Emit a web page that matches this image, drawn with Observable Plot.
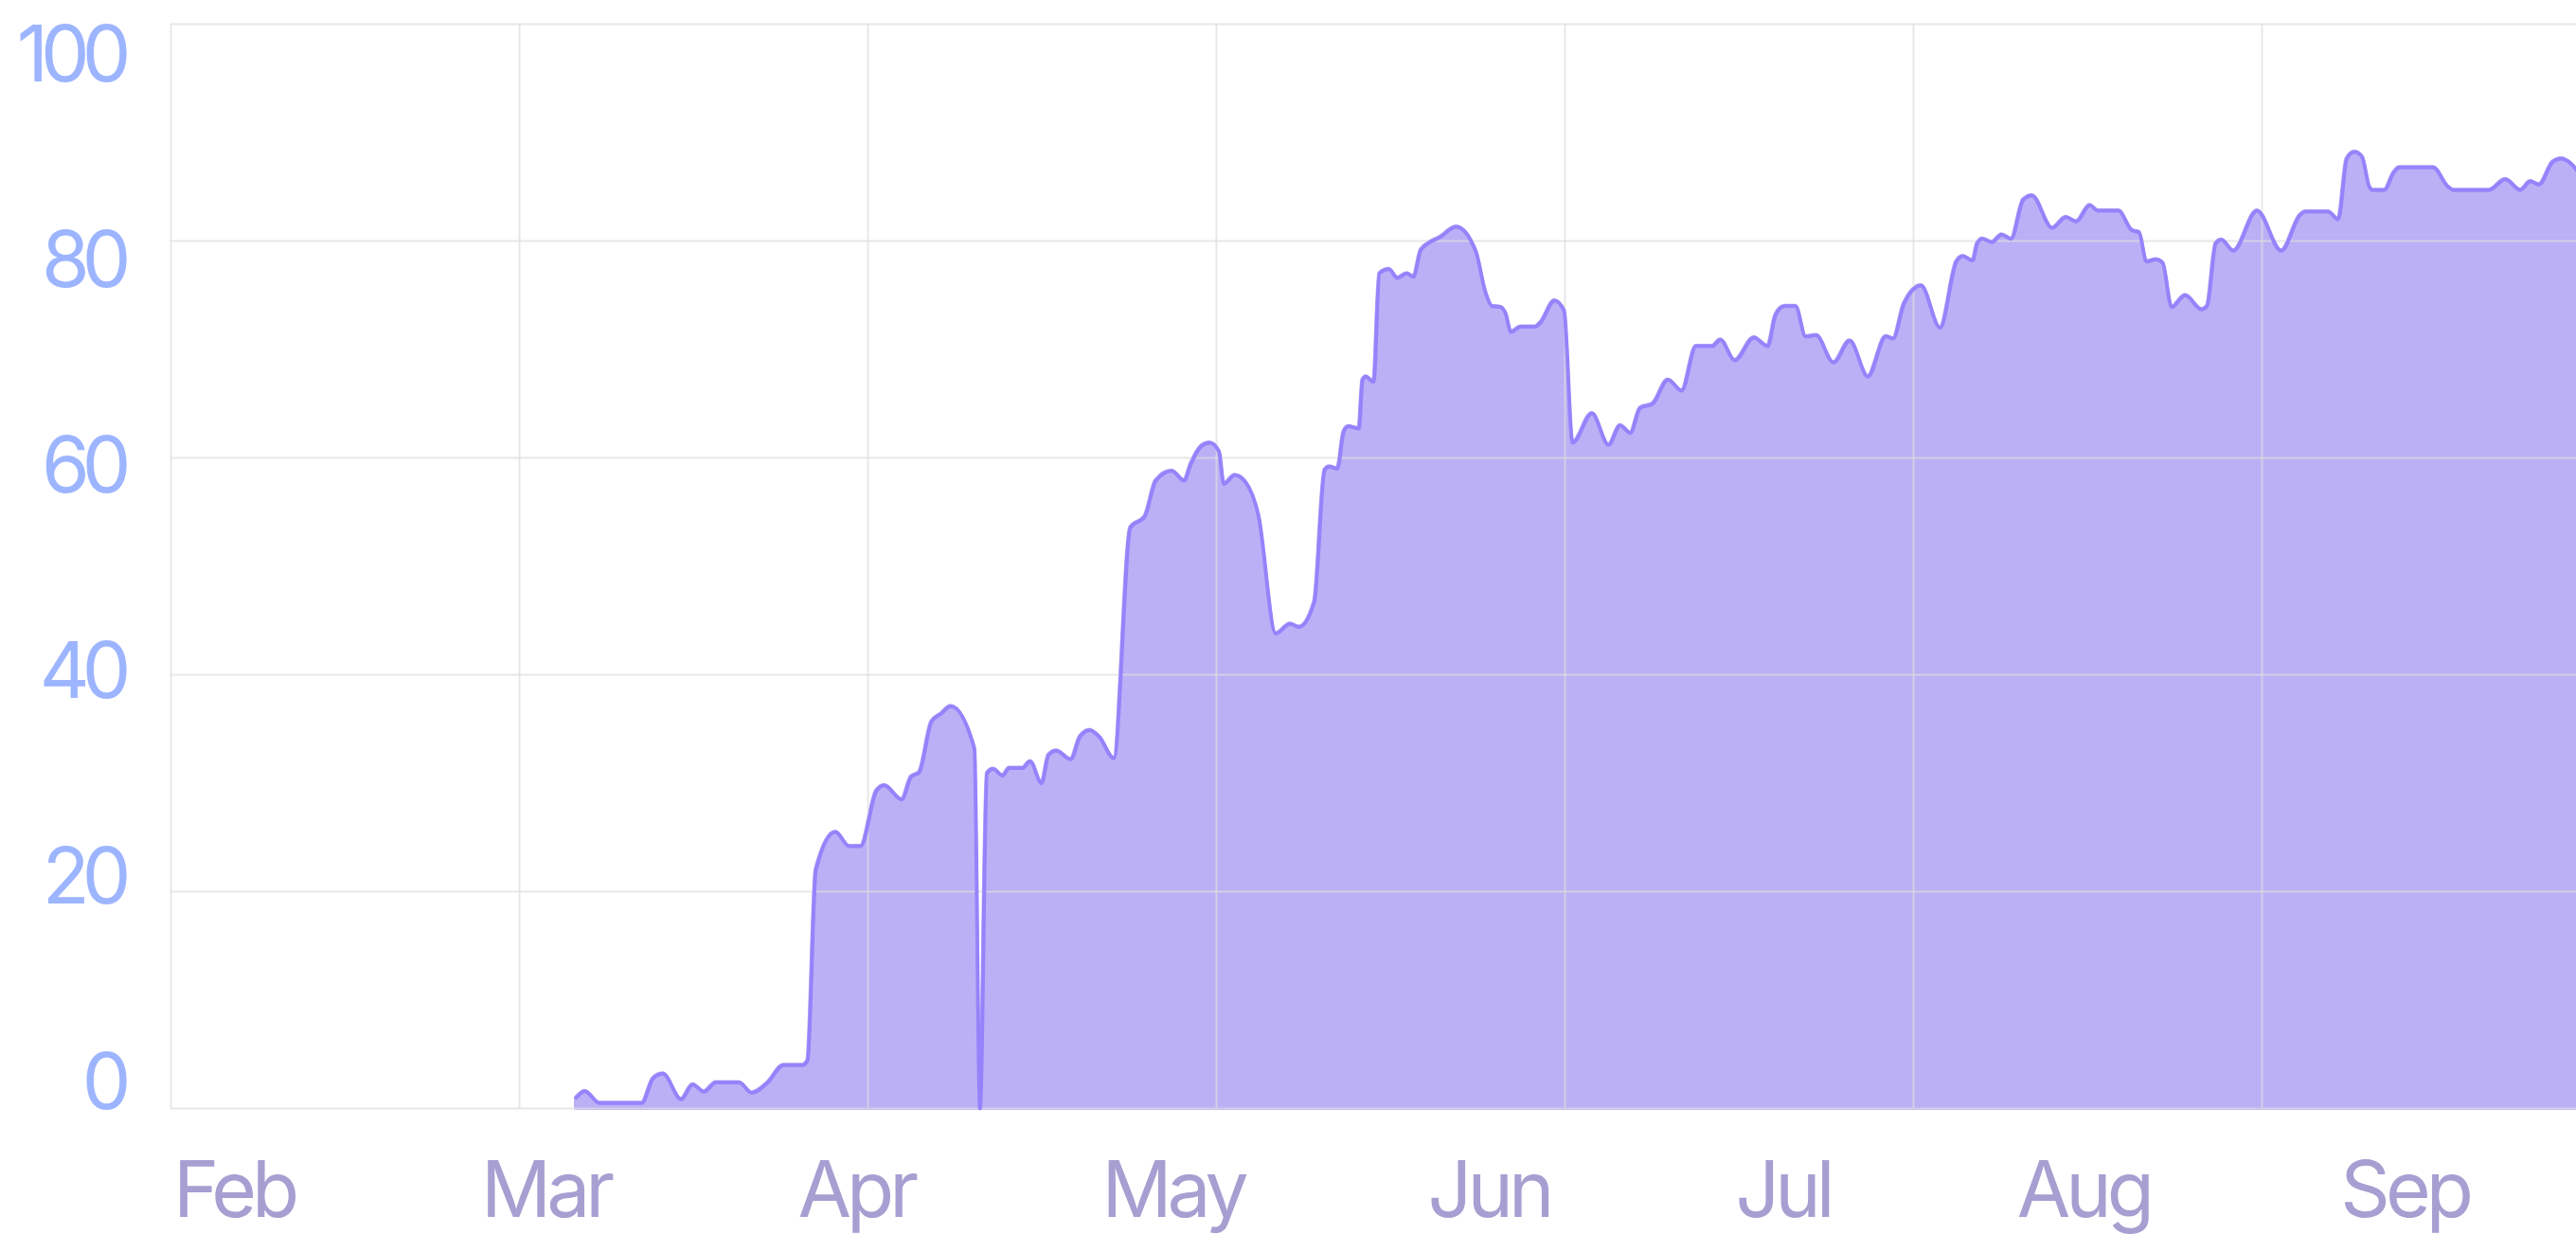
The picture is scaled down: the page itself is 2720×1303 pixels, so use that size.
<!DOCTYPE html>
<html><head><meta charset="utf-8">
<script src="https://cdn.jsdelivr.net/npm/d3@7"></script>
<script src="https://cdn.jsdelivr.net/npm/@observablehq/plot@0.6"></script>
<style>
html,body{margin:0;padding:0;background:#fff;overflow:hidden;}
#chart svg{display:block;}
#chart text{font-variant-numeric:proportional-nums;}
#chart g[fill="#9db5ff"] text{letter-spacing:-8px;}
</style></head><body><div id="chart"></div>
<script>
// days since Feb 1 and values
const day = [37.22, 38.0, 39.36, 43.23, 44.29, 45.18, 46.85, 47.9, 48.95, 50.03,
  52.17, 53.33, 54.81, 56.24, 57.99, 58.45, 59.22, 61.02, 62.26, 63.33,
  64.78, 65.5, 67.1, 67.97, 68.7, 69.85, 70.72, 71.59, 73.77, 74.29,
  74.93, 75.5, 76.37, 76.96, 78.2, 78.9, 79.94, 80.58, 81.3, 82.61,
  83.48, 84.35, 85.22, 86.58, 88.11, 89.42, 90.43, 91.89, 93.04, 93.63,
  94.63, 95.37, 96.23, 96.67, 97.68, 98.55, 99.85, 101.45, 102.76, 103.57,
  104.98, 105.94, 106.37, 107.1, 107.68, 108.11, 109.07, 109.42, 109.71, 110.43,
  110.96, 111.83, 112.61, 113.48, 114.09, 114.78, 116.6, 118.0, 119.79, 120.72,
  121.29, 122.12, 122.55, 123.04, 123.94, 125.27, 125.77, 127.03, 127.91, 128.7,
  130.48, 132.0, 133.07, 134.0, 134.9, 136.06, 137.45, 138.71, 140.04, 141.53,
  142.26, 143.59, 145.35, 146.61, 147.34, 148.17, 149.17, 150.09, 151.06, 152.65,
  154.15, 155.81, 157.46, 158.13, 159.12, 160.69, 162.44, 163.94, 164.53, 165.43,
  165.86, 166.32, 167.22, 168.09, 168.96, 170.08, 170.87, 172.73, 174.0, 174.96,
  176.17, 176.93, 178.82, 180.03, 180.71, 181.39, 182.26, 182.87, 183.7, 184.94,
  186.45, 186.96, 187.76, 188.28, 189.37, 191.54, 193.77, 195.5, 196.0, 198.07,
  199.0, 199.79, 200.48, 201.17, 201.85, 202.17, 203.23, 204.09, 204.61, 207.7,
  209.08, 209.59, 212.86, 214.34, 215.71, 216.64, 217.43, 218.7, 219.5, 220.17,
  221.3];
const value = [1.0, 1.6, 0.5, 0.5, 2.8, 3.2, 0.85, 2.2, 1.55, 2.4,
  2.4, 1.45, 2.4, 4.0, 4.0, 4.4, 22.0, 25.5, 24.2, 24.2,
  29.3, 29.8, 28.5, 30.6, 31.0, 35.7, 36.4, 37.1, 33.2, 0,
  30.9, 31.3, 30.7, 31.4, 31.4, 32.0, 30.0, 32.6, 33.0, 32.2,
  34.3, 34.9, 34.3, 32.3, 53.6, 54.6, 57.9, 58.8, 57.9, 59.4,
  61.1, 61.4, 60.6, 57.6, 58.4, 57.9, 54.7, 43.8, 44.7, 44.4,
  46.7, 58.9, 59.2, 59.0, 62.4, 62.9, 62.7, 67.2, 67.5, 67.0,
  77.0, 77.4, 76.6, 77.0, 76.7, 79.2, 80.4, 81.3, 79.1, 75.2,
  74.0, 73.9, 73.3, 71.6, 72.1, 72.1, 72.5, 74.5, 73.6, 61.4,
  64.1, 61.2, 63.0, 62.3, 64.6, 65.0, 67.2, 66.2, 70.3, 70.3,
  70.9, 69.0, 71.1, 70.3, 73.2, 74.0, 74.0, 71.2, 71.3, 68.8,
  70.8, 67.5, 71.2, 71.0, 74.2, 75.9, 72.0, 78.1, 78.6, 78.2,
  79.8, 80.2, 79.9, 80.6, 80.2, 83.8, 84.2, 81.2, 82.2, 81.8,
  83.3, 82.8, 82.8, 81.0, 80.8, 78.1, 78.3, 78.0, 73.9, 75.0,
  73.7, 74.0, 79.8, 80.1, 79.1, 82.8, 79.1, 82.4, 82.7, 82.7,
  82.0, 87.6, 88.2, 87.8, 85.0, 84.7, 84.7, 86.3, 86.8, 86.8,
  85.0, 84.7, 84.7, 85.7, 84.7, 85.5, 85.2, 87.3, 87.6, 87.3,
  86.0];
const yTicks = [100, 80, 60, 40, 20, 0];
const gridDays = [0, 32, 64, 96, 128, 160, 192, 224];
const monthLabels = ["Feb", "Mar", "Apr", "May", "Jun", "Jul", "Aug", "Sep"];
const monthDays = [5.8, 34.4, 62.9, 92.0, 121.0, 148.0, 175.6, 205.1];

const data = day.map((d, i) => ({day: d, value: value[i]}));
const months = monthLabels.map((m, i) => ({label: m, day: monthDays[i]}));

const marks = [
  Plot.areaY(data, {x: "day", y: "value", curve: "monotone-x", fill: "#bbb0f6", stroke: "#bbb0f6", strokeWidth: 4, strokeLinejoin: "round"}),
  Plot.ruleY(yTicks, {stroke: "#dddddd", strokeOpacity: 0.68, strokeWidth: 2}),
  Plot.ruleX(gridDays, {stroke: "#dddddd", strokeOpacity: 0.68, strokeWidth: 2}),
  Plot.lineY(data, {x: "day", y: "value", curve: "monotone-x", stroke: "#9683fb", strokeWidth: 4, strokeLinecap: "round", strokeLinejoin: "round"}),
  ...yTicks.map((t, i) => Plot.text([t], {
    y: d => d, text: d => String(d), frameAnchor: "left", textAnchor: "end", lineAnchor: "bottom",
    dx: -50, dy: 60 - 12 * i, fill: "#9db5ff", fontSize: 82
  })),
  Plot.text(months, {x: "day", text: "label", frameAnchor: "bottom", lineAnchor: "bottom", dy: 114, fill: "#a79fd1", fontSize: 82})
];

const chart = Plot.plot({
  width: 2720, height: 1303,
  marginLeft: 180, marginRight: 0, marginTop: 25, marginBottom: 133,
  x: {type: "linear", domain: [0, 220.87], axis: null},
  y: {domain: [0, 100], axis: null},
  style: {fontFamily: "Inter, 'Liberation Sans', Arial, sans-serif", letterSpacing: "-5px", background: "#fff", overflow: "hidden"},
  marks
});
document.getElementById("chart").appendChild(chart);
</script>
</body></html>
